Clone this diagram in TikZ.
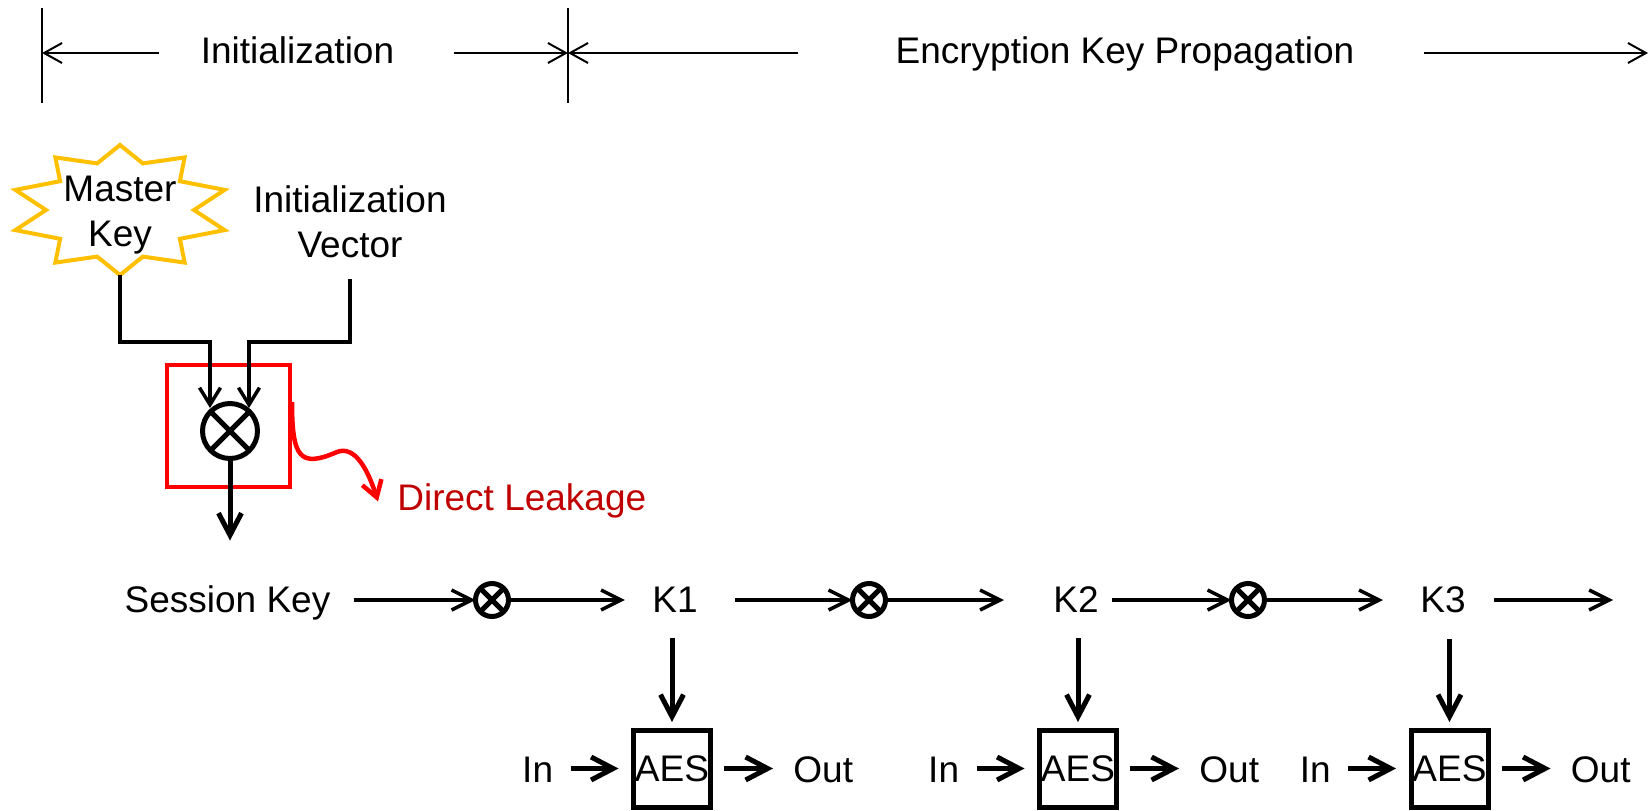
\documentclass[tikz,border=0pt]{standalone}
\usepackage{fontspec}
\setmainfont{Liberation Sans}
\usetikzlibrary{arrows.meta,calc}
\definecolor{keygold}{RGB}{255,192,0}
\definecolor{leakred}{RGB}{255,0,0}
\definecolor{leaktext}{RGB}{192,0,0}
\newcommand{\diagfont}{\fontsize{18.5}{22.5}\selectfont}

\begin{document}
\begin{tikzpicture}[x=0.5pt,y=-0.5pt,
  txt/.style={font=\diagfont,inner sep=0pt},
  spanline/.style={line width=1pt,-{Straight Barb[length=9pt,width=10pt]}},
  rowarrow/.style={line width=1.75pt,-{Straight Barb[length=10pt,width=10pt]}},
  feedline/.style={line width=1.75pt,-{Straight Barb[length=8.5pt,width=10.5pt]}},
  heavyarrow/.style={line width=2.5pt,-{Straight Barb[length=11pt,width=11.5pt]}},
  xorsym/.style={circle,draw,line width=#1,inner sep=0pt,outer sep=0pt,
    path picture={\draw[line width=#1] (path picture bounding box.north west) -- (path picture bounding box.south east)
      (path picture bounding box.north east) -- (path picture bounding box.south west);}},
  aesbox/.style={draw,line width=2.5pt,minimum size=38.5pt,inner sep=0pt,outer sep=0pt,font=\diagfont}]
\useasboundingbox (0,0) rectangle (1651,810);

% phases on top
\coordinate (t0) at (42,53);
\coordinate (t1) at (568,53);
\coordinate (t2) at (1648,53);
\draw[line width=1pt] (42,8) -- (42,103) (568,8) -- (568,103);
\node[txt,anchor=base] (init) at (297.5,63) {Initialization};
\node[txt,anchor=base] (ekp) at (1125,63) {Encryption Key Propagation};
\draw[spanline] ($(init.west |- t0)+(-41,0)$) -- (t0);
\draw[spanline] ($(init.east |- t0)+(59,0)$) -- (t1);
\draw[spanline] ($(ekp.west |- t1)+(-97,0)$) -- (t1);
\draw[spanline] ($(ekp.east |- t2)+(69,0)$) -- (t2);

% master key and IV
\coordinate (mkc) at (120,210);
\filldraw[keygold,fill=white,line width=2pt] ($(mkc)+(90:110 and 65)$)
  \foreach \a in {90,126,...,414} { -- ($(mkc)+(\a:110 and 65)$) -- ($(mkc)+({\a+18}:74 and 49)$) } -- cycle;
\node[txt,align=center,anchor=north] (mk) at (120,175.5) {Master\\Key};
\coordinate (mktip) at ($(mkc)+(0,65)$);
\node[txt,align=center,anchor=north] (iv) at (350,185.5) {Initialization\\Vector};
\coordinate (ivtip) at ($(iv.south)+(0,21)$);

% mixing step
\node[draw=leakred,line width=2.25pt,minimum width=61.5pt,minimum height=61pt,inner sep=0pt,outer sep=0pt] (leakbox) at (228.5,426) {};
\node[xorsym=2.5pt,minimum size=27.5pt] (mix) at (230,431) {};
\draw[feedline] (mktip) |- ($(mix.center)+(-20,-89)$) -- ($(mix.center)+(-20,-23)$);
\draw[feedline] (ivtip) |- ($(mix.center)+(19,-89)$) -- ($(mix.center)+(19,-23)$);
\draw[heavyarrow] (mix.south) -- ($(mix.south)+(0,82)$);

% leakage
\node[txt,anchor=base west,text=leaktext] (leak) at (397,510) {Direct Leakage};
\draw[leakred,line width=2.25pt,-{Straight Barb[length=8pt,width=10pt]}] ($(leakbox.east)+(2,-24)$)
  .. controls ($(leakbox.east)+(2,32)$) and ($(leakbox.east)+(10,42)$) .. ($(leakbox.east)+(47,26)$)
  .. controls ($(leakbox.east)+(65,19)$) and ($(leakbox.east)+(78,44)$) .. ($(leak.west)+(-19,1)$);

% key chain
\node[txt,anchor=base] (sk) at (227.5,612) {Session Key};
\node[xorsym=2.5pt,minimum size=16.5pt] (x1) at (492,600) {};
\node[txt,anchor=base] (k1) at (675,612) {K1};
\node[xorsym=2.5pt,minimum size=16.5pt] (x2) at (869,600) {};
\node[txt,anchor=base] (k2) at (1076,612) {K2};
\node[xorsym=2.5pt,minimum size=16.5pt] (x3) at (1248,600) {};
\node[txt,anchor=base] (k3) at (1443,612) {K3};
\draw[rowarrow] ($(sk.east |- x1)+(23,0)$) -- (x1);
\draw[rowarrow] (x1) -- ($(k1.west |- x1)+(-27,0)$);
\draw[rowarrow] ($(k1.east |- x2)+(37,0)$) -- (x2);
\draw[rowarrow] (x2) -- ($(k2.west |- x2)+(-49,0)$);
\draw[rowarrow] ($(k2.east |- x3)+(13,0)$) -- (x3);
\draw[rowarrow] (x3) -- ($(k3.west |- x3)+(-37,0)$);
\draw[rowarrow] ($(k3.east |- x3)+(28,0)$) -- ($(k3.east |- x3)+(147,0)$);

% AES blocks
\node[aesbox] (aes1) at (672,768.5) {AES};
\node[aesbox] (aes2) at (1078,768.5) {AES};
\node[aesbox] (aes3) at (1449.5,768.5) {AES};
\draw[heavyarrow] ($(aes1.north |- k1.south)+(0,26)$) -- ($(aes1.north)+(0,-8)$);
\draw[heavyarrow] ($(aes2.north |- k2.south)+(0,26)$) -- ($(aes2.north)+(0,-8)$);
\draw[heavyarrow] ($(aes3.north |- k3.south)+(0,26)$) -- ($(aes3.north)+(0,-8)$);
\node[txt,anchor=base east] (in1) at ($(aes1.west)+(-80,13.5)$) {In};
\node[txt,anchor=base east] (in2) at ($(aes2.west)+(-80,13.5)$) {In};
\node[txt,anchor=base east] (in3) at ($(aes3.west)+(-80,13.5)$) {In};
\node[txt,anchor=base west] (out1) at ($(aes1.east)+(82.5,13.5)$) {Out};
\node[txt,anchor=base west] (out2) at ($(aes2.east)+(82.5,13.5)$) {Out};
\node[txt,anchor=base west] (out3) at ($(aes3.east)+(82.5,13.5)$) {Out};
\draw[heavyarrow] ($(in1.east |- aes1.west)+(17,0)$) -- ($(aes1.west)+(-15,0)$);
\draw[heavyarrow] ($(in2.east |- aes2.west)+(17,0)$) -- ($(aes2.west)+(-15,0)$);
\draw[heavyarrow] ($(in3.east |- aes3.west)+(17,0)$) -- ($(aes3.west)+(-15,0)$);
\draw[heavyarrow] ($(aes1.east)+(13.5,0)$) -- ($(out1.west |- aes1.east)+(-20,0)$);
\draw[heavyarrow] ($(aes2.east)+(13.5,0)$) -- ($(out2.west |- aes2.east)+(-20,0)$);
\draw[heavyarrow] ($(aes3.east)+(13.5,0)$) -- ($(out3.west |- aes3.east)+(-20,0)$);
\end{tikzpicture}
\end{document}
